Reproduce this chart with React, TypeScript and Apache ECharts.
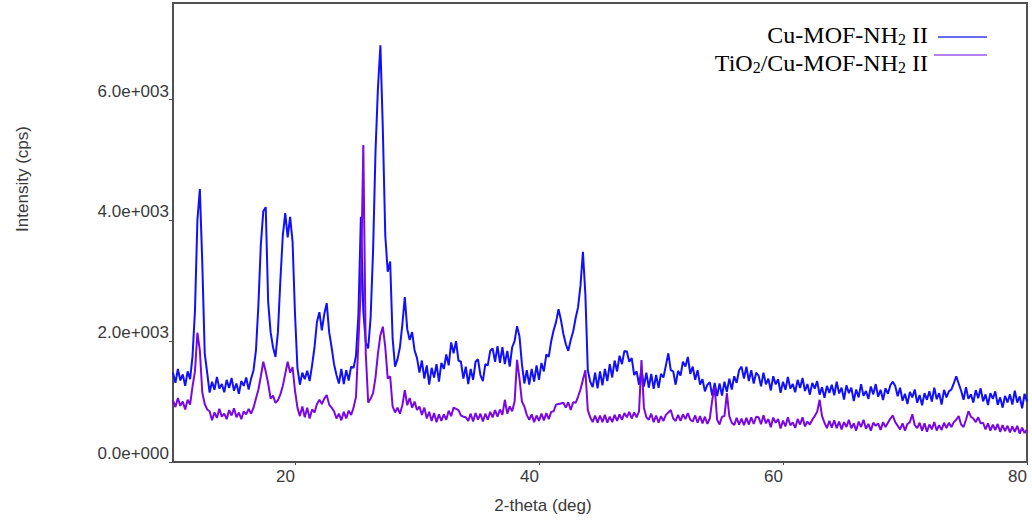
import React, { useEffect, useRef } from "react";
import * as echarts from "echarts";

// Scan of the bare framework: [2θ (deg), intensity (cps)]
const cuMofNh2: [number, number][] = [
  [10.0, 1480], [10.2, 1310], [10.4, 1540], [10.6, 1350], [10.8, 1450], [11.0, 1260], [11.2, 1500], [11.4, 1370], [11.6, 1750], [11.8, 2500],
  [12.0, 4000], [12.2, 4520], [12.4, 3300], [12.6, 1800], [12.8, 1480], [13.0, 1150], [13.2, 1330], [13.4, 1195], [13.6, 1410], [13.8, 1215],
  [14.0, 1290], [14.2, 1155], [14.4, 1360], [14.6, 1225], [14.8, 1390], [15.0, 1180], [15.2, 1300], [15.4, 1130], [15.6, 1340], [15.8, 1260],
  [16.0, 1400], [16.2, 1200], [16.4, 1380], [16.6, 1520], [16.8, 1850], [17.0, 2600], [17.2, 3600], [17.4, 4150], [17.6, 4220], [17.8, 2650],
  [18.0, 2150], [18.2, 1900], [18.4, 1740], [18.6, 2150], [18.8, 3000], [19.0, 3750], [19.2, 4120], [19.4, 3720], [19.6, 4060], [19.8, 3650],
  [20.0, 2450], [20.2, 1560], [20.4, 1280], [20.6, 1480], [20.8, 1370], [21.0, 1510], [21.2, 1340], [21.4, 1600], [21.6, 1900], [21.8, 2320],
  [22.0, 2480], [22.2, 2180], [22.4, 2450], [22.6, 2630], [22.8, 2150], [23.0, 1900], [23.2, 1620], [23.4, 1440], [23.6, 1300], [23.8, 1540],
  [24.0, 1290], [24.2, 1520], [24.4, 1350], [24.6, 1580], [24.8, 1560], [25.0, 1760], [25.2, 2450], [25.4, 4060], [25.6, 2500], [25.8, 1980],
  [26.0, 1880], [26.2, 2400], [26.4, 3500], [26.6, 5150], [26.8, 6200], [27.0, 6900], [27.2, 5500], [27.4, 3750], [27.6, 3150], [27.8, 3320],
  [28.0, 2050], [28.2, 1580], [28.4, 1700], [28.6, 1900], [28.8, 2280], [29.0, 2730], [29.2, 2200], [29.4, 2020], [29.6, 2150], [29.8, 1850],
  [30.0, 1720], [30.2, 1480], [30.4, 1680], [30.6, 1380], [30.8, 1600], [31.0, 1280], [31.2, 1560], [31.4, 1400], [31.6, 1620], [31.8, 1330],
  [32.0, 1640], [32.2, 1540], [32.4, 1780], [32.6, 1600], [32.8, 1980], [33.0, 1800], [33.2, 2000], [33.4, 1680], [33.6, 1660], [33.8, 1380],
  [34.0, 1580], [34.2, 1290], [34.4, 1540], [34.6, 1360], [34.8, 1660], [35.0, 1700], [35.2, 1440], [35.4, 1340], [35.6, 1620], [35.8, 1600],
  [36.0, 1840], [36.2, 1880], [36.4, 1660], [36.6, 1920], [36.8, 1640], [37.0, 1900], [37.2, 1620], [37.4, 1840], [37.6, 1580], [37.8, 1900],
  [38.0, 2000], [38.2, 2250], [38.4, 2080], [38.6, 1620], [38.8, 1300], [39.0, 1520], [39.2, 1280], [39.4, 1540], [39.6, 1330], [39.8, 1600],
  [40.0, 1360], [40.2, 1640], [40.4, 1500], [40.6, 1780], [40.8, 1740], [41.0, 2000], [41.2, 2180], [41.4, 2320], [41.6, 2530], [41.8, 2350],
  [42.0, 2120], [42.2, 1950], [42.4, 1840], [42.6, 2020], [42.8, 2160], [43.0, 2380], [43.2, 2560], [43.4, 2920], [43.6, 3480], [43.8, 2780],
  [44.0, 1520], [44.2, 1330], [44.4, 1240], [44.6, 1480], [44.8, 1220], [45.0, 1500], [45.2, 1270], [45.4, 1540], [45.6, 1340], [45.8, 1620],
  [46.0, 1400], [46.2, 1680], [46.4, 1500], [46.6, 1760], [46.8, 1620], [47.0, 1840], [47.2, 1830], [47.4, 1660], [47.6, 1720], [47.8, 1440],
  [48.0, 1500], [48.2, 1280], [48.4, 1530], [48.6, 1250], [48.8, 1480], [49.0, 1230], [49.2, 1460], [49.4, 1210], [49.6, 1440], [49.8, 1230],
  [50.0, 1460], [50.2, 1400], [50.4, 1600], [50.6, 1800], [50.8, 1520], [51.0, 1500], [51.2, 1280], [51.4, 1510], [51.6, 1430], [51.8, 1660],
  [52.0, 1580], [52.2, 1740], [52.4, 1460], [52.6, 1580], [52.8, 1360], [53.0, 1520], [53.2, 1280], [53.4, 1370], [53.6, 1170], [53.8, 1280],
  [54.0, 1320], [54.2, 1100], [54.4, 1310], [54.6, 1090], [54.8, 1300], [55.0, 1100], [55.2, 1330], [55.4, 1160], [55.6, 1380], [55.8, 1200],
  [56.0, 1420], [56.2, 1310], [56.4, 1520], [56.6, 1580], [56.8, 1380], [57.0, 1580], [57.2, 1340], [57.4, 1520], [57.6, 1300], [57.8, 1480],
  [58.0, 1430], [58.2, 1255], [58.4, 1480], [58.6, 1285], [58.8, 1380], [59.0, 1185], [59.2, 1420], [59.4, 1285], [59.6, 1370], [59.8, 1145],
  [60.0, 1330], [60.2, 1195], [60.4, 1410], [60.6, 1215], [60.8, 1290], [61.0, 1155], [61.2, 1360], [61.4, 1225], [61.6, 1390], [61.8, 1175],
  [62.0, 1290], [62.2, 1115], [62.4, 1310], [62.6, 1215], [62.8, 1340], [63.0, 1115], [63.2, 1240], [63.4, 1065], [63.6, 1260], [63.8, 1145],
  [64.0, 1280], [64.2, 1105], [64.4, 1330], [64.6, 1135], [64.8, 1230], [65.0, 1035], [65.2, 1270], [65.4, 1140], [65.6, 1230], [65.8, 1010],
  [66.0, 1200], [66.2, 1070], [66.4, 1290], [66.6, 1095], [66.8, 1175], [67.0, 1045], [67.2, 1250], [67.4, 1120], [67.6, 1290], [67.8, 1080],
  [68.0, 1195], [68.2, 1025], [68.4, 1220], [68.6, 1130], [68.8, 1270], [69.0, 1330], [69.2, 1260], [69.4, 1090], [69.6, 1230], [69.8, 1015],
  [70.0, 1130], [70.2, 960], [70.4, 1160], [70.6, 1070], [70.8, 1200], [71.0, 980], [71.2, 1110], [71.4, 940], [71.6, 1140], [71.8, 1030],
  [72.0, 1170], [72.2, 1000], [72.4, 1230], [72.6, 1040], [72.8, 1140], [73.0, 950], [73.2, 1195], [73.4, 1070], [73.6, 1170], [73.8, 1200],
  [74.0, 1300], [74.2, 1420], [74.4, 1300], [74.6, 1180], [74.8, 1030], [75.0, 1240], [75.2, 1045], [75.4, 1120], [75.6, 985], [75.8, 1190],
  [76.0, 1055], [76.2, 1220], [76.4, 1005], [76.6, 1120], [76.8, 945], [77.0, 1140], [77.2, 1045], [77.4, 1170], [77.6, 945], [77.8, 1070],
  [78.0, 900], [78.2, 1095], [78.4, 985], [78.6, 1120], [78.8, 950], [79.0, 1180], [79.2, 985], [79.4, 1085], [79.6, 890], [79.8, 1130],
  [80.0, 1000],
];

// Scan of the TiO2-loaded composite: [2θ (deg), intensity (cps)]
const tiO2CuMofNh2: [number, number][] = [
  [10.0, 1020], [10.2, 910], [10.4, 1060], [10.6, 930], [10.8, 1000], [11.0, 870], [11.2, 1030], [11.4, 950], [11.6, 1250], [11.8, 1500],
  [12.0, 2140], [12.2, 1850], [12.4, 1150], [12.6, 960], [12.8, 870], [13.0, 840], [13.2, 690], [13.4, 820], [13.6, 730], [13.8, 880],
  [14.0, 750], [14.2, 800], [14.4, 710], [14.6, 860], [14.8, 770], [15.0, 890], [15.2, 740], [15.4, 820], [15.6, 710], [15.8, 840],
  [16.0, 790], [16.2, 880], [16.4, 800], [16.6, 900], [16.8, 1050], [17.0, 1200], [17.2, 1420], [17.4, 1660], [17.6, 1500], [17.8, 1300],
  [18.0, 1050], [18.2, 1100], [18.4, 980], [18.6, 1020], [18.8, 1120], [19.0, 1260], [19.2, 1460], [19.4, 1660], [19.6, 1480], [19.8, 1570],
  [20.0, 1180], [20.2, 900], [20.4, 760], [20.6, 920], [20.8, 740], [21.0, 900], [21.2, 720], [21.4, 870], [21.6, 820], [21.8, 960],
  [22.0, 1030], [22.2, 960], [22.4, 1050], [22.6, 1110], [22.8, 950], [23.0, 900], [23.2, 840], [23.4, 720], [23.6, 800], [23.8, 690],
  [24.0, 830], [24.2, 720], [24.4, 850], [24.6, 780], [24.8, 900], [25.0, 1080], [25.2, 2000], [25.4, 2900], [25.6, 5250], [25.8, 1800],
  [26.0, 980], [26.2, 1050], [26.4, 1140], [26.6, 1400], [26.8, 1800], [27.0, 2100], [27.2, 2240], [27.4, 1900], [27.6, 1380], [27.8, 1420],
  [28.0, 920], [28.2, 820], [28.4, 900], [28.6, 800], [28.8, 940], [29.0, 1190], [29.2, 940], [29.4, 1060], [29.6, 900], [29.8, 1000],
  [30.0, 860], [30.2, 920], [30.4, 780], [30.6, 900], [30.8, 720], [31.0, 830], [31.2, 680], [31.4, 810], [31.6, 660], [31.8, 790],
  [32.0, 680], [32.2, 790], [32.4, 700], [32.6, 850], [32.8, 760], [33.0, 900], [33.2, 880], [33.4, 860], [33.6, 770], [33.8, 750],
  [34.0, 740], [34.2, 680], [34.4, 800], [34.6, 670], [34.8, 810], [35.0, 700], [35.2, 800], [35.4, 670], [35.6, 800], [35.8, 700],
  [36.0, 830], [36.2, 740], [36.4, 860], [36.6, 750], [36.8, 870], [37.0, 780], [37.2, 1030], [37.4, 800], [37.6, 920], [37.8, 840],
  [38.0, 1000], [38.2, 1690], [38.4, 1380], [38.6, 1000], [38.8, 920], [39.0, 780], [39.2, 700], [39.4, 790], [39.6, 660], [39.8, 770],
  [40.0, 680], [40.2, 800], [40.4, 690], [40.6, 810], [40.8, 710], [41.0, 830], [41.2, 840], [41.4, 950], [41.6, 960], [41.8, 970],
  [42.0, 980], [42.2, 900], [42.4, 990], [42.6, 860], [42.8, 990], [43.0, 980], [43.2, 1080], [43.4, 1200], [43.6, 1360], [43.8, 1520],
  [44.0, 860], [44.2, 740], [44.4, 660], [44.6, 770], [44.8, 650], [45.0, 770], [45.2, 660], [45.4, 780], [45.6, 650], [45.8, 750],
  [46.0, 660], [46.2, 780], [46.4, 680], [46.6, 790], [46.8, 700], [47.0, 810], [47.2, 740], [47.4, 830], [47.6, 720], [47.8, 820],
  [48.0, 740], [48.2, 840], [48.4, 1690], [48.6, 900], [48.8, 740], [49.0, 700], [49.2, 800], [49.4, 660], [49.6, 770], [49.8, 650],
  [50.0, 760], [50.2, 680], [50.4, 780], [50.6, 820], [50.8, 860], [51.0, 720], [51.2, 680], [51.4, 780], [51.6, 680], [51.8, 790],
  [52.0, 710], [52.2, 810], [52.4, 700], [52.6, 670], [52.8, 770], [53.0, 650], [53.2, 760], [53.4, 640], [53.6, 750], [53.8, 630],
  [54.0, 720], [54.2, 1030], [54.4, 1240], [54.6, 700], [54.8, 620], [55.0, 750], [55.2, 760], [55.4, 1140], [55.6, 760], [55.8, 650],
  [56.0, 610], [56.2, 730], [56.4, 620], [56.6, 720], [56.8, 610], [57.0, 730], [57.2, 620], [57.4, 740], [57.6, 630], [57.8, 750],
  [58.0, 740], [58.2, 625], [58.4, 775], [58.6, 640], [58.8, 710], [59.0, 575], [59.2, 735], [59.4, 650], [59.6, 710], [59.8, 555],
  [60.0, 685], [60.2, 590], [60.4, 740], [60.6, 608], [60.8, 656], [61.0, 564], [61.2, 712], [61.4, 620], [61.6, 740], [61.8, 590],
  [62.0, 670], [62.2, 620], [62.4, 700], [62.6, 760], [62.8, 830], [63.0, 1030], [63.2, 760], [63.4, 650], [63.6, 560], [63.8, 680],
  [64.0, 570], [64.2, 690], [64.4, 560], [64.6, 670], [64.8, 540], [65.0, 660], [65.2, 580], [65.4, 700], [65.6, 560], [65.8, 640],
  [66.0, 520], [66.2, 670], [66.4, 580], [66.6, 700], [66.8, 550], [67.0, 630], [67.2, 520], [67.4, 650], [67.6, 600], [67.8, 640],
  [68.0, 530], [68.2, 660], [68.4, 580], [68.6, 650], [68.8, 720], [69.0, 770], [69.2, 660], [69.4, 600], [69.6, 540], [69.8, 640],
  [70.0, 520], [70.2, 630], [70.4, 660], [70.6, 790], [70.8, 610], [71.0, 560], [71.2, 650], [71.4, 520], [71.6, 640], [71.8, 500],
  [72.0, 620], [72.2, 540], [72.4, 660], [72.6, 520], [72.8, 610], [73.0, 530], [73.2, 650], [73.4, 560], [73.6, 650], [73.8, 580],
  [74.0, 660], [74.2, 700], [74.4, 760], [74.6, 620], [74.8, 580], [75.0, 700], [75.2, 840], [75.4, 750], [75.6, 720], [75.8, 660],
  [76.0, 740], [76.2, 640], [76.4, 650], [76.6, 540], [76.8, 640], [77.0, 520], [77.2, 620], [77.4, 530], [77.6, 630], [77.8, 500],
  [78.0, 610], [78.2, 510], [78.4, 600], [78.6, 490], [78.8, 590], [79.0, 500], [79.2, 600], [79.4, 470], [79.6, 570], [79.8, 480],
  [80.0, 540],
];

const xTickValues = [20, 40, 60, 80];
const yTickValues = [0, 2000, 4000, 6000];

const BLUE = "#1010ff";
const PURPLE = "#7a08e2";
const AXIS_GREY = "#505050";
const LABEL_FONT = "'Liberation Sans', Arial, sans-serif";
const SERIF_FONT = "'Liberation Serif', 'Times New Roman', serif";

// 6000 -> "6.0e+003"
function sciLabel(v: number): string {
  const [mantissa, exp] = v.toExponential(1).split("e");
  const sign = exp[0];
  return `${mantissa}e${sign}${exp.slice(1).padStart(3, "0")}`;
}

const legendRich = {
  a: { fontFamily: SERIF_FONT, fontSize: 24, color: "#1c1c1c", verticalAlign: "bottom", lineHeight: 26 },
  s: { fontFamily: SERIF_FONT, fontSize: 16, color: "#1c1c1c", verticalAlign: "bottom", lineHeight: 20 },
};

export default function App() {
  const ref = useRef<HTMLDivElement>(null);

  useEffect(() => {
    if (!ref.current) return;
    const chart = echarts.init(ref.current, undefined, { renderer: "svg" });
    chart.setOption({
      animation: false,
      backgroundColor: "#ffffff",
      grid: {
        left: 173,
        right: 5,
        top: 3,
        bottom: 61,
        show: true,
        borderColor: AXIS_GREY,
        borderWidth: 2,
      },
      xAxis: {
        type: "value",
        min: 10,
        max: 80,
        axisLine: { show: true, onZero: false, lineStyle: { color: AXIS_GREY, width: 2 } },
        axisTick: { show: true, length: 3, customValues: xTickValues, lineStyle: { color: AXIS_GREY } },
        axisLabel: {
          customValues: xTickValues,
          align: "right",
          margin: 6,
          fontSize: 17,
          fontFamily: LABEL_FONT,
          color: "#3a3a3a",
        },
        splitLine: { show: false },
      },
      yAxis: {
        type: "value",
        min: 0,
        max: 7600,
        axisLine: { show: true, onZero: false, lineStyle: { color: AXIS_GREY, width: 2 } },
        axisTick: { show: true, length: 4, customValues: yTickValues, lineStyle: { color: AXIS_GREY } },
        axisLabel: {
          customValues: yTickValues,
          formatter: (v: number) => sciLabel(v),
          verticalAlign: "bottom",
          margin: 4,
          fontSize: 17,
          fontFamily: LABEL_FONT,
          color: "#3a3a3a",
        },
        splitLine: { show: false },
      },
      series: [
        {
          name: "Cu-MOF-NH2 II",
          type: "line",
          data: cuMofNh2,
          showSymbol: false,
          lineStyle: { color: BLUE, width: 2 },
          itemStyle: { color: BLUE },
        },
        {
          name: "TiO2/Cu-MOF-NH2 II",
          type: "line",
          data: tiO2CuMofNh2,
          showSymbol: false,
          lineStyle: { color: PURPLE, width: 2 },
          itemStyle: { color: PURPLE },
        },
      ],
      graphic: [
        {
          type: "text",
          x: 22,
          y: 179,
          rotation: Math.PI / 2,
          style: {
            text: "Intensity (cps)",
            fontFamily: LABEL_FONT,
            fontSize: 17,
            fill: "#3a3a3a",
            align: "center",
            verticalAlign: "middle",
          },
        },
        {
          type: "text",
          x: 543,
          y: 505,
          style: {
            text: "2-theta (deg)",
            fontFamily: LABEL_FONT,
            fontSize: 17,
            fill: "#3a3a3a",
            align: "center",
            verticalAlign: "middle",
          },
        },
        {
          type: "text",
          x: 928,
          y: 34,
          style: {
            text: "{a|Cu-MOF-NH}{s|2}{a| II}",
            rich: legendRich,
            align: "right",
            verticalAlign: "middle",
          },
        },
        {
          type: "line",
          shape: { x1: 938, y1: 37, x2: 987, y2: 37 },
          style: { stroke: "#6a6af2", lineWidth: 2 },
        },
        {
          type: "text",
          x: 928,
          y: 62,
          style: {
            text: "{a|TiO}{s|2}{a|/Cu-MOF-NH}{s|2}{a| II}",
            rich: legendRich,
            align: "right",
            verticalAlign: "middle",
          },
        },
        {
          type: "line",
          shape: { x1: 934, y1: 55, x2: 987, y2: 55 },
          style: { stroke: "#b482f2", lineWidth: 2 },
        },
      ],
    });
    return () => chart.dispose();
  }, []);

  return (
    <div
      ref={ref}
      style={{ position: "fixed", left: 0, top: 0, width: 1032, height: 523, background: "#fff" }}
    />
  );
}
